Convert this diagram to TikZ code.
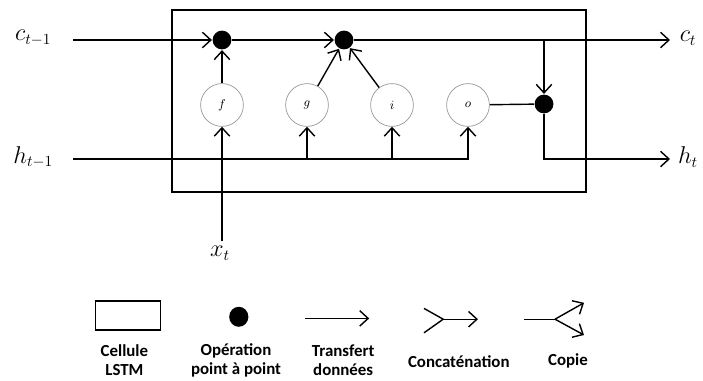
\documentclass[tikz,border=0pt]{standalone}
\usepackage{fontspec}
\setsansfont{Carlito}
\usetikzlibrary{arrows.meta,positioning,shapes.geometric}

\begin{document}
\begin{tikzpicture}[
    >={Straight Barb[length=6pt,width=11pt]},
    line width=1pt,
    pointop/.style={circle, fill=black, inner sep=0pt, minimum size=0.47cm},
    gate/.style={circle, draw=gray!80, line width=0.5pt, fill=white,
        minimum size=1.07cm, inner sep=0pt, font=\small},
    varlbl/.style={font=\fontsize{16}{18}\selectfont},
    legtxt/.style={font=\sffamily\bfseries\fontsize{12}{13.5}\selectfont,
        align=center, inner sep=1pt}
]
\useasboundingbox (0,0) rectangle (17.575,-9.525);

% LSTM cell
\draw (4.3,-0.25) rectangle (14.65,-4.8);

% Inputs / outputs
\node[varlbl] (cin) at (0.83,-0.95) {$c_{t-1}$};
\node[varlbl] (hin) at (0.83,-3.93) {$h_{t-1}$};
\node[varlbl] (cout) at (17.2,-0.95) {$c_t$};
\node[varlbl] (hout) at (17.2,-3.93) {$h_t$};
\node[varlbl, anchor=north] (xin) at (5.5,-6.02) {$x_t$};
\coordinate (cstart) at (1.825,-1.0);
\coordinate (hstart) at (1.825,-3.975);
\coordinate (cend) at (16.75,-1.0);
\coordinate (hend) at (16.75,-3.975);

% Gates
\node[gate] (f) at (5.55,-2.625) {$f$};
\node[gate] (g) at (7.675,-2.625) {$g$};
\node[gate] (i) at (9.8,-2.625) {$i$};
\node[gate] (o) at (11.7,-2.625) {$o$};

% Point-wise operations
\node[pointop] (dotf) at (5.55,-1.0) {};
\node[pointop] (dotg) at (8.6,-1.0) {};
\node[pointop] (doto) at (13.6,-2.6) {};

% Cell state
\draw[->] (cstart) -- (dotf);
\draw[->] (dotf) -- (dotg);
\draw[->] (dotg) -- (cend);
\draw[->] (doto |- cend) -- (doto);
\draw[->] (doto) |- (hend);

% Hidden state and gates
\draw[->] (hstart) -| (o);
\draw[->] (g |- hstart) -- (g);
\draw[->] (i |- hstart) -- (i);
\draw[->] (f |- xin.north) -- (f);
\draw[->] (f) -- (dotf);
\draw[->] (g) -- (dotg);
\draw[->] (i) -- (dotg);
\draw (o) -- (doto);

% Legend
\node[draw, minimum width=1.625cm, minimum height=0.725cm, inner sep=0pt] (legcell) at (3.205,-7.89) {};
\node[ellipse, fill=black, inner sep=0pt, minimum width=0.48cm, minimum height=0.5cm] (legdot) at (5.97,-7.92) {};
\coordinate (ta) at (7.625,-7.96);
\coordinate (tb) at (9.23,-7.96);
\draw[->] (ta) -- (tb);
\coordinate (ca1) at (10.6,-7.71);
\coordinate (ca2) at (10.6,-8.32);
\coordinate (cm) at (11.08,-7.98);
\coordinate (cb) at (11.95,-7.98);
\draw (ca1) -- (cm) -- (ca2);
\draw[->] (cm) -- (cb);
\coordinate (pa) at (13.11,-7.98);
\coordinate (pm) at (13.875,-7.98);
\coordinate (pb1) at (14.6,-7.57);
\coordinate (pb2) at (14.6,-8.375);
\draw (pa) -- (pm);
\draw[->] (pm) -- (pb1);
\draw[->] (pm) -- (pb2);

\node[legtxt] (lcell) at (3.11,-9.0) {Cellule\\LSTM};
\node[legtxt] (ldot) at (5.9,-9.0) {Opération\\point à point};
\node[legtxt] (ltrans) at (8.58,-9.0) {Transfert\\données};
\node[legtxt] (lconc) at (11.47,-9.03) {Concaténation};
\node[legtxt] (lcopy) at (14.2,-9.03) {Copie};

\end{tikzpicture}
\end{document}
